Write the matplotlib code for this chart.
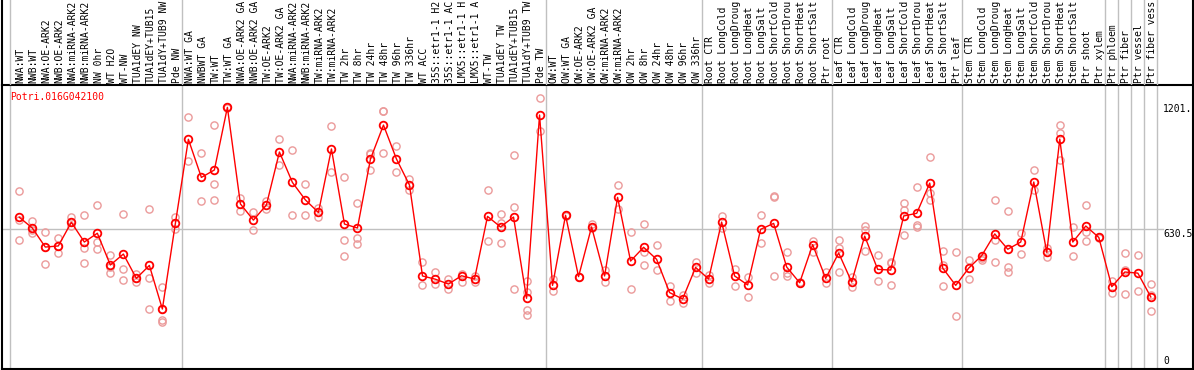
import matplotlib
matplotlib.use("Agg")
import matplotlib.pyplot as plt
import numpy as np

gene = "Potri.016G042100"

labels = [
    "NWA:WT", "NWB:WT", "NWA:OE-ARK2", "NWB:OE-ARK2", "NWA:miRNA-ARK2", "NWB:miRNA-ARK2",
    "NW 0hr", "WT H2O", "WT-NW", "TUA1dEY NW", "TUA1dEY+TUB15", "TUA1dY+TUB9 NW", "Pde NW",
    "NWA:WT GA", "NWBWT GA", "TW:WT", "TW:WT GA", "NWA:OE-ARK2 GA", "NWB:OE-ARK2 GA",
    "TW:OE-ARK2", "TW:OE-ARK2 GA", "NWA:miRNA-ARK2", "NWB:miRNA-ARK2", "TW:miRNA-ARK2",
    "TW:miRNA-ARK2", "TW 2hr", "TW 8hr", "TW 24hr", "TW 48hr", "TW 96hr", "TW 336hr",
    "WT ACC", "35S::etr1-1 H2", "35S::etr1-1 AC", "LMX5::etr1-1 H", "LMX5::etr1-1 A",
    "WT-TW", "TUA1dEY TW", "TUA1dEY+TUB15", "TUA1dY+TUB9 TW", "Pde TW",
    "OW:WT", "OW:WT GA", "OW:OE-ARK2", "OW:OE-ARK2 GA", "OW:miRNA-ARK2", "OW:miRNA-ARK2",
    "OW 2hr", "OW 8hr", "OW 24hr", "OW 48hr", "OW 96hr", "OW 336hr",
    "Root CTR", "Root LongCold", "Root LongDroug", "Root LongHeat", "Root LongSalt",
    "Root ShortCold", "Root ShortDrou", "Root ShortHeat", "Root ShortSalt", "Ptr root",
    "Leaf CTR", "Leaf LongCold", "Leaf LongDroug", "Leaf LongHeat", "Leaf LongSalt",
    "Leaf ShortCold", "Leaf ShortDrou", "Leaf ShortHeat", "Leaf ShortSalt", "Ptr leaf",
    "Stem CTR", "Stem LongCold", "Stem LongDroug", "Stem LongHeat", "Stem LongSalt",
    "Stem ShortCold", "Stem ShortDrou", "Stem ShortHeat", "Stem ShortSalt", "Ptr shoot",
    "Ptr xylem", "Ptr phloem", "Ptr fiber", "Ptr vessel", "Ptr fiber vess",
]

group_sizes = [13, 28, 12, 10, 10, 11, 1, 1, 1, 1]

mean_values = [
    686, 637, 550, 555, 663, 573, 613, 468, 518, 407, 466, 267, 658,
    1042, 868, 902, 1188, 747, 673, 742, 984, 845, 765, 708, 998, 655, 637, 952, 1107, 952,
    833, 418, 403, 381, 419, 404, 690, 642, 687, 316, 1153,
    375, 695, 415, 642, 418, 777, 486, 549, 494, 342, 313, 457,
    404, 664, 418, 377, 631, 658, 459, 387, 561, 407,
    523, 390, 600, 448, 445, 692, 704, 842, 454, 375,
    454, 511, 610, 540, 573, 847, 526, 1043, 573, 646, 594,
    369, 436, 431, 322,
]

replicate_values = [
    [804, 673, 581], [669, 628, 616], [617, 550, 473], [590, 555, 521], [687, 663, 646],
    [695, 547, 477], [740, 575, 540], [514, 460, 430], [699, 448, 398], [425, 407, 392],
    [724, 407, 267], [366, 267, 217, 206], [687, 631],
    [1142, 941], [978, 760], [1107, 836, 765], [1190, 1186], [772, 716], [712, 628],
    [760, 722], [1042, 925], [993, 696], [836, 696], [730, 689], [1103, 891],
    [868, 581, 509], [750, 590, 564], [978, 902, 976], [1171, 1170, 979], [1011, 893],
    [859, 810], [480, 377], [436, 381], [403, 358], [427, 392], [419, 389],
    [810, 576], [701, 568, 658], [970, 733, 357], [396, 343, 263, 240], [1231, 1078],
    [404, 348], [696, 691], [415, 412], [654, 635], [445, 389], [832, 724],
    [617, 358], [654, 529, 466], [559, 445], [372, 304], [331, 293], [483, 433],
    [422, 384], [692, 635], [448, 372], [415, 323], [695, 567], [783, 780, 418],
    [526, 433, 418], [392, 384], [578, 526], [438, 384],
    [582, 544, 436], [415, 369], [646, 628, 532], [514, 395], [483, 475, 377],
    [753, 719, 605], [823, 650, 640], [960, 795, 765], [530, 468, 372], [526, 235],
    [491, 403], [498, 491], [765, 582, 480], [715, 460, 438], [616, 518], [902, 810],
    [544, 506], [1107, 1069, 947], [643, 509], [740, 620, 578], [597, 590],
    [396, 339], [523, 445, 336], [514, 349], [381, 331, 258],
]

axis_ticks = [1201.0, 630.5, 0.0]
axis_tick_labels = ["1201.", "630.5", "0"]

# ---------------------------------------------------------------- layout
W, H = 1194, 370
fig = plt.figure(figsize=(W / 100, H / 100), dpi=100)
fig.patch.set_facecolor("white")

px_left, px_right = 2.0, 1192.5
px_sep, px_bottom = 85.0, 369.0
x0_px, dx_px = 19.3, 13.006
xlim = ((px_left - x0_px) / dx_px, (px_right - x0_px) / dx_px)
y_zero_px, y_scale = 367.5, 0.219
ylim = ((y_zero_px - px_bottom) / y_scale, (y_zero_px - px_sep) / y_scale)

font = dict(family="DejaVu Sans Mono", size=7)
grid_c = "#c0c0c0"

ax = fig.add_axes([px_left / W, (H - px_bottom) / H, (px_right - px_left) / W,
                   (px_bottom - px_sep) / H])
hx = fig.add_axes([px_left / W, (H - px_sep) / H, (px_right - px_left) / W, px_sep / H])

for a in (ax, hx):
    a.set_xlim(*xlim)
    a.set_xticks([])
    a.set_yticks([])
    a.patch.set_alpha(0)
ax.set_ylim(*ylim)
hx.set_ylim(0, px_sep)

for s in ["left", "right", "bottom", "top"]:
    ax.spines[s].set_color("black")
    ax.spines[s].set_linewidth(1.5)
hx.spines["left"].set_linewidth(1.5)
hx.spines["right"].set_linewidth(1.5)
hx.spines["top"].set_visible(False)
hx.spines["bottom"].set_visible(False)

# group separators
bounds = np.cumsum(group_sizes) - 0.5
vlines = [-0.72] + list(bounds)
for a in (ax, hx):
    for b in vlines:
        a.axvline(b, color=grid_c, lw=1.0, zorder=0)

# horizontal grid line at middle tick
ax.plot([xlim[0], 87.9], [axis_ticks[1], axis_ticks[1]], color=grid_c, lw=1.0, zorder=0)

x = np.arange(len(labels))

# replicates
rx, ry = [], []
for i, reps in enumerate(replicate_values):
    for v in reps:
        rx.append(i)
        ry.append(v)
ax.plot(rx, ry, linestyle="none", marker="o", markersize=5.2, markerfacecolor="none",
        markeredgecolor="#eb9a9a", markeredgewidth=1.0, zorder=2)

# means
ax.plot(x, mean_values, color="red", lw=1.0, zorder=3)
ax.plot(x, mean_values, linestyle="none", marker="o", markersize=5.5, markerfacecolor="none",
        markeredgecolor="red", markeredgewidth=1.3, zorder=4)

# sample labels
for i, lab in enumerate(labels):
    hx.text(i + 0.1, 2.0, lab, rotation=90, ha="center", va="bottom", color="black",
            **font)

# gene name
ax.text((10 - x0_px) / dx_px, (y_zero_px - 97.5) / y_scale, gene, color="red",
        ha="left", va="center", **font)

# axis values
lx = (1163 - x0_px) / dx_px
ax.text(lx, axis_ticks[0], axis_tick_labels[0], ha="left", va="top", **font)
ax.text(lx, axis_ticks[1], axis_tick_labels[1], ha="left", va="top", **font)
ax.text(lx, (y_zero_px - 356) / y_scale, axis_tick_labels[2], ha="left", va="top", **font)

fig.savefig("out.png", dpi=100)
